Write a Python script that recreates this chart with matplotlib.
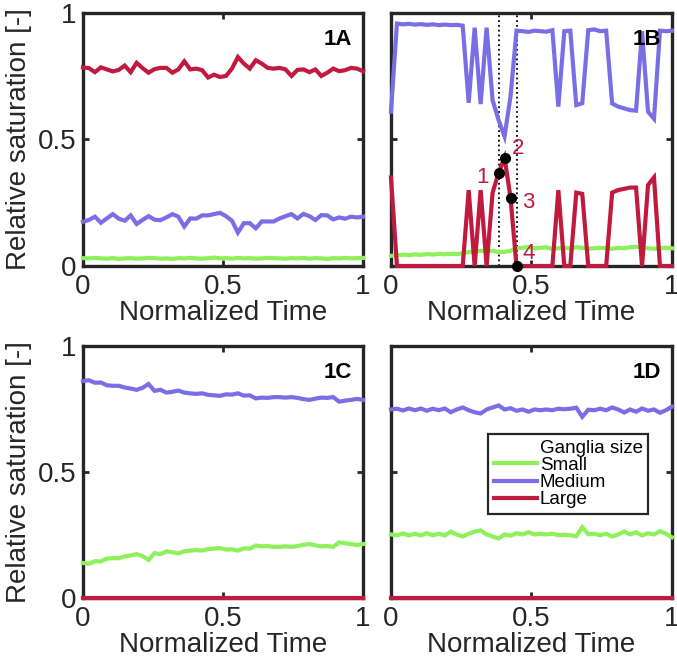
import numpy as np
import matplotlib
matplotlib.use("Agg")
import matplotlib.pyplot as plt
from matplotlib.lines import Line2D

plt.rcParams['font.family'] = ['Liberation Sans', 'DejaVu Sans']

# ---------------- data ----------------
panel_labels = ["1A", "1B", "1C", "1D"]
series_names = ["Small", "Medium", "Large"]
legend_title = "Ganglia size"
xtick_vals = [0, 0.5, 1]
xtick_labels = ["0", "0.5", "1"]
ytick_vals = [0, 0.5, 1]
ytick_labels = ["0", "0.5", "1"]

a_small = [0.031, 0.030, 0.032, 0.030, 0.029, 0.031, 0.028, 0.030, 0.031, 0.029, 0.030, 0.032,
           0.031, 0.029, 0.030, 0.028, 0.031, 0.030, 0.032, 0.030, 0.029, 0.031, 0.033, 0.030,
           0.031, 0.029, 0.032, 0.030, 0.031, 0.029, 0.030, 0.032, 0.031, 0.030, 0.029, 0.031,
           0.030, 0.032, 0.029, 0.031, 0.030, 0.028, 0.031, 0.030, 0.032, 0.030, 0.031, 0.032]
a_medium = [0.175, 0.182, 0.195, 0.171, 0.188, 0.205, 0.187, 0.179, 0.200, 0.166, 0.182, 0.197,
            0.183, 0.181, 0.192, 0.205, 0.195, 0.156, 0.188, 0.187, 0.200, 0.200, 0.205, 0.210,
            0.197, 0.179, 0.132, 0.169, 0.169, 0.149, 0.176, 0.176, 0.176, 0.188, 0.197, 0.205,
            0.188, 0.206, 0.197, 0.182, 0.201, 0.200, 0.184, 0.192, 0.187, 0.195, 0.192, 0.195]
a_large = [0.785, 0.782, 0.766, 0.785, 0.777, 0.769, 0.775, 0.792, 0.766, 0.803, 0.782, 0.764,
           0.778, 0.783, 0.783, 0.764, 0.777, 0.809, 0.777, 0.780, 0.774, 0.745, 0.756, 0.747,
           0.751, 0.780, 0.826, 0.800, 0.780, 0.813, 0.800, 0.783, 0.780, 0.783, 0.777, 0.751,
           0.775, 0.777, 0.766, 0.777, 0.751, 0.764, 0.780, 0.770, 0.774, 0.783, 0.780, 0.770]

b_small = [0.040, 0.042, 0.045, 0.043, 0.046, 0.044, 0.047, 0.045, 0.048, 0.046, 0.048, 0.047,
           0.050, 0.055, 0.058, 0.060, 0.058, 0.060, 0.055, 0.056, 0.060, 0.070, 0.072, 0.075,
           0.070, 0.072, 0.074, 0.068, 0.070, 0.072, 0.070, 0.074, 0.072, 0.068, 0.070, 0.072,
           0.070, 0.068, 0.072, 0.070, 0.074, 0.076, 0.072, 0.070, 0.068, 0.070, 0.072, 0.070]
b_medium = [0.610, 0.958, 0.955, 0.957, 0.954, 0.956, 0.953, 0.955, 0.952, 0.954, 0.952, 0.953,
            0.950, 0.645, 0.942, 0.640, 0.942, 0.655, 0.577, 0.512, 0.670, 0.930, 0.928, 0.925,
            0.930, 0.928, 0.926, 0.932, 0.630, 0.928, 0.930, 0.636, 0.643, 0.932, 0.935, 0.928,
            0.930, 0.642, 0.630, 0.623, 0.616, 0.614, 0.928, 0.610, 0.582, 0.930, 0.928, 0.930]
b_large = [0.350, 0.0, 0.0, 0.0, 0.0, 0.0, 0.0, 0.0, 0.0, 0.0, 0.0, 0.0,
           0.0, 0.300, 0.0, 0.300, 0.0, 0.290, 0.368, 0.428, 0.270, 0.0, 0.0, 0.0,
           0.0, 0.0, 0.0, 0.0, 0.300, 0.0, 0.0, 0.290, 0.285, 0.0, 0.0, 0.0,
           0.0, 0.290, 0.300, 0.305, 0.310, 0.310, 0.0, 0.320, 0.350, 0.0, 0.0, 0.0]
b_marked_idx = [18, 19, 20, 21]
b_marked_names = ["1", "2", "3", "4"]
b_marked_text_x = [0.325, 0.452, 0.490, 0.490]
b_marked_text_y = [0.350, 0.466, 0.249, 0.051]

c_small = [0.139, 0.136, 0.146, 0.145, 0.156, 0.158, 0.158, 0.165, 0.169, 0.174, 0.166, 0.151,
           0.178, 0.174, 0.185, 0.182, 0.177, 0.185, 0.188, 0.190, 0.188, 0.194, 0.196, 0.198,
           0.192, 0.193, 0.188, 0.197, 0.196, 0.208, 0.205, 0.206, 0.203, 0.203, 0.205, 0.203,
           0.206, 0.211, 0.214, 0.209, 0.205, 0.206, 0.203, 0.221, 0.217, 0.214, 0.210, 0.214]
c_medium = [0.861, 0.864, 0.854, 0.855, 0.844, 0.842, 0.842, 0.835, 0.831, 0.826, 0.834, 0.849,
            0.822, 0.826, 0.815, 0.818, 0.823, 0.815, 0.812, 0.810, 0.812, 0.806, 0.804, 0.802,
            0.808, 0.807, 0.812, 0.803, 0.804, 0.792, 0.795, 0.794, 0.797, 0.797, 0.795, 0.797,
            0.794, 0.789, 0.786, 0.791, 0.795, 0.794, 0.797, 0.779, 0.783, 0.786, 0.790, 0.786]
c_large = [0.0] * 48

d_small = [0.252, 0.249, 0.256, 0.248, 0.255, 0.248, 0.257, 0.249, 0.255, 0.248, 0.263, 0.252,
           0.244, 0.255, 0.263, 0.268, 0.252, 0.244, 0.236, 0.252, 0.247, 0.257, 0.252, 0.261,
           0.252, 0.255, 0.252, 0.255, 0.249, 0.251, 0.249, 0.245, 0.281, 0.253, 0.255, 0.249,
           0.255, 0.244, 0.252, 0.264, 0.252, 0.261, 0.248, 0.257, 0.252, 0.265, 0.255, 0.241]
d_medium = [0.748, 0.751, 0.744, 0.752, 0.745, 0.752, 0.743, 0.751, 0.745, 0.752, 0.737, 0.748,
            0.756, 0.745, 0.737, 0.732, 0.748, 0.756, 0.764, 0.748, 0.753, 0.743, 0.748, 0.739,
            0.748, 0.745, 0.748, 0.745, 0.751, 0.749, 0.751, 0.755, 0.719, 0.747, 0.745, 0.751,
            0.745, 0.756, 0.748, 0.736, 0.748, 0.739, 0.752, 0.743, 0.748, 0.735, 0.745, 0.759]
d_large = [0.0] * 48

panels = [
    (a_small, a_medium, a_large),
    (b_small, b_medium, b_large),
    (c_small, c_medium, c_large),
    (d_small, d_medium, d_large),
]

# ---------------- style ----------------
colors = ["#8ef05a", "#7a6ee6", "#c01a3e"]
spine_color = "#262626"
lw = 3.0
fs = 20

fig = plt.figure(figsize=(6.77, 6.62), dpi=100)
positions = [
    [0.1226, 0.5982, 0.4136, 0.3822],
    [0.5775, 0.5982, 0.4150, 0.3822],
    [0.1226, 0.0967, 0.4136, 0.3807],
    [0.5775, 0.0967, 0.4150, 0.3807],
]

axes = []
for k, (pos, data) in enumerate(zip(positions, panels)):
    ax = fig.add_axes(pos)
    axes.append(ax)
    n = len(data[0])
    t = np.linspace(0, 1, n)
    for vals, col, name in zip(data, colors, series_names):
        ax.plot(t, vals, color=col, lw=lw, clip_on=False, zorder=3,
                solid_joinstyle='miter', label=name)
    ax.set_xlim(0, 1)
    ax.set_ylim(0, 1)
    ax.set_xticks(xtick_vals)
    ax.set_xticklabels(xtick_labels)
    ax.set_yticks(ytick_vals)
    if k % 2 == 0:
        ax.set_yticklabels(ytick_labels)
        ax.set_ylabel("Relative saturation [-]", fontsize=fs, color="#262626", labelpad=4)
    else:
        ax.set_yticklabels([])
    ax.set_xlabel("Normalized Time", fontsize=fs, color="#262626", labelpad=0)
    ax.tick_params(direction='in', length=4, width=2, top=True, right=True,
                   labelsize=fs, colors=spine_color, pad=6)
    ax.tick_params(axis='y', pad=5)
    for sp in ax.spines.values():
        sp.set_linewidth(2.4)
        sp.set_color(spine_color)
    ax.text(0.96, 0.935, panel_labels[k], transform=ax.transAxes, ha='right', va='top',
            fontsize=16, fontweight='bold', color='black', zorder=5,
            family=['Liberation Sans', 'DejaVu Sans'])

# Panel 1B annotations
axB = axes[1]
nB = len(b_large)
tB = np.linspace(0, 1, nB)
for idx in (b_marked_idx[0], b_marked_idx[-1]):
    axB.axvline(tB[idx], color='black', lw=1.3, ls=':', zorder=2)
axB.plot(tB[b_marked_idx], np.array(b_large)[b_marked_idx], 'o', color='black',
         ms=7, clip_on=False, zorder=6)
for name, tx, ty in zip(b_marked_names, b_marked_text_x, b_marked_text_y):
    axB.text(tx, ty, name, color=colors[2], fontsize=16, ha='center', va='center', zorder=6)

# Legend in panel 1D
axD = axes[3]
handles = [Line2D([], [], color='none', lw=lw)]
handles += [Line2D([], [], color=c, lw=lw) for c in colors]
labels = [legend_title] + series_names
leg = axD.legend(handles, labels, loc='upper left', bbox_to_anchor=(0.346, 0.65),
                 fontsize=13.5, frameon=True, fancybox=False, framealpha=1,
                 edgecolor='#262626', borderpad=0.3, labelspacing=0.0,
                 handlelength=2.3, handletextpad=0.15, borderaxespad=0)
leg.get_frame().set_linewidth(1.6)
leg.set_zorder(7)

fig.savefig("out.png", dpi=100)
